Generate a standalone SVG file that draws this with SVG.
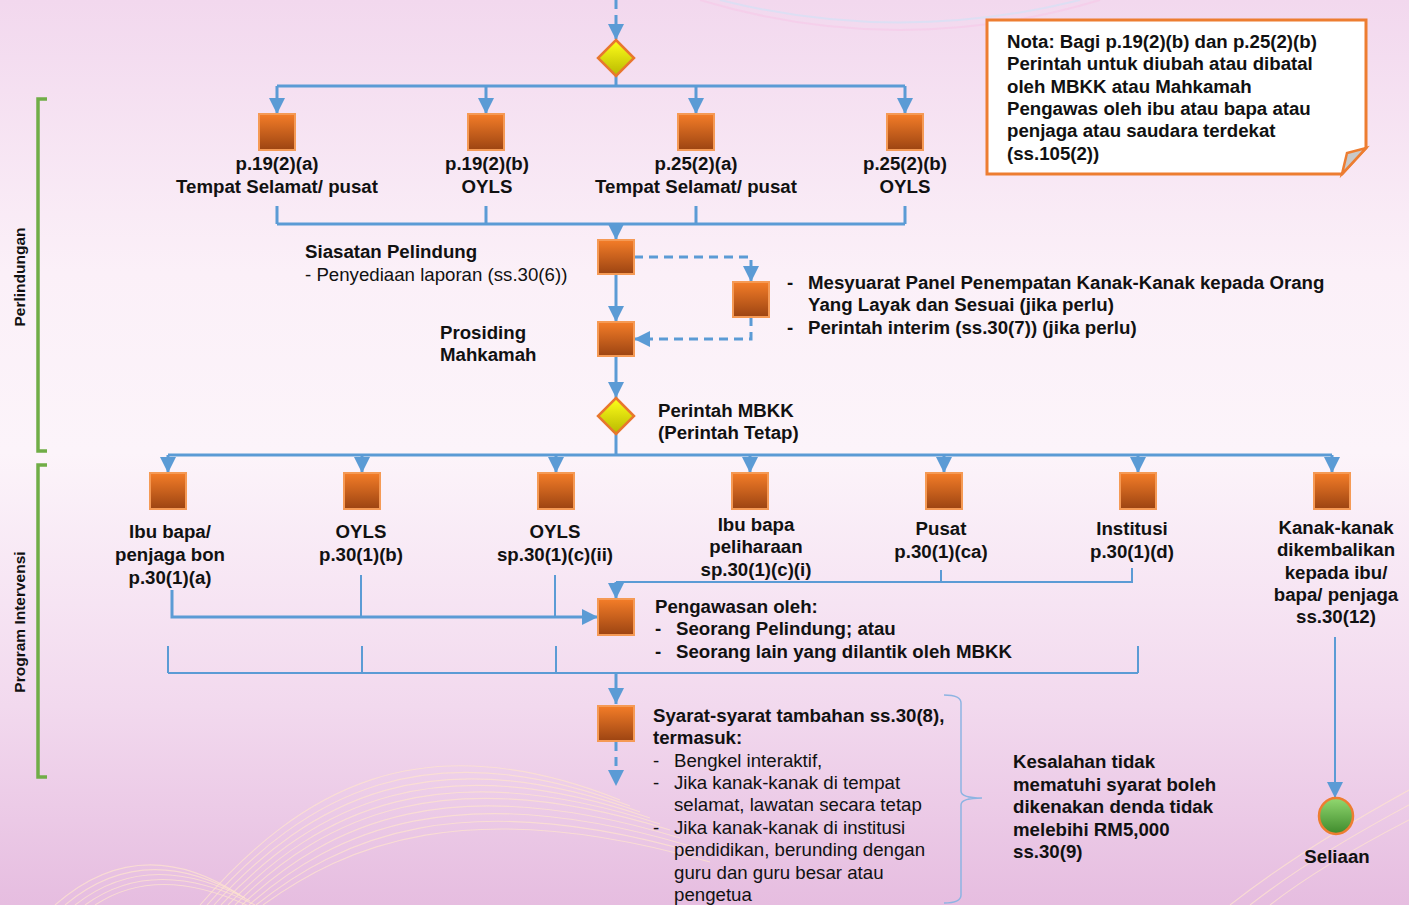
<svg xmlns="http://www.w3.org/2000/svg" width="1409" height="905" viewBox="0 0 1409 905">
<defs>
<linearGradient id="bg" x1="0" y1="0" x2="0" y2="1">
<stop offset="0" stop-color="#f2d8ee"/>
<stop offset="0.3" stop-color="#fbf0f8"/>
<stop offset="0.5" stop-color="#fcf4fa"/>
<stop offset="0.78" stop-color="#f2d9ee"/>
<stop offset="1" stop-color="#e6bde0"/>
</linearGradient>
<linearGradient id="box" x1="0" y1="0" x2="0" y2="1">
<stop offset="0" stop-color="#f47d28"/>
<stop offset="1" stop-color="#9c4412"/>
</linearGradient>
<linearGradient id="dia" x1="0" y1="0" x2="0" y2="1">
<stop offset="0" stop-color="#ffff1a"/>
<stop offset="1" stop-color="#b8b800"/>
</linearGradient>
<linearGradient id="grn" x1="0" y1="0" x2="0" y2="1">
<stop offset="0" stop-color="#92d870"/>
<stop offset="1" stop-color="#3e8a2c"/>
</linearGradient>
<marker id="ah" markerUnits="userSpaceOnUse" markerWidth="16" markerHeight="16" viewBox="0 0 10 10" refX="10" refY="5" orient="auto">
<path d="M0,0 L10,5 L0,10 z" fill="#5b9bd5"/>
</marker>
<style>
.bx{fill:url(#box);stroke:#f59a55;stroke-width:2}
.dm{fill:url(#dia);stroke:#e8772e;stroke-width:2.5}
.c{fill:none;stroke:#5b9bd5;stroke-width:3}
.ct{fill:none;stroke:#5b9bd5;stroke-width:2}
.d{fill:none;stroke:#5b9bd5;stroke-width:3;stroke-dasharray:9 6}
.a{marker-end:url(#ah)}
text{font-family:"Liberation Sans",Arial,sans-serif;font-size:18.67px;fill:#111}
.b{font-weight:bold}
.m{text-anchor:middle}
.side{font-size:15.5px;font-weight:bold;fill:#111}
.br{fill:none;stroke:#70ad47;stroke-width:3.5}
.sw{fill:none;stroke:#fde3cf;stroke-width:1.1;opacity:0.75}
</style>
</defs>
<rect width="1409" height="905" fill="url(#bg)"/>
<g id="decor">
<path d="M700,0 Q900,60 1100,0" fill="none" stroke="#f7c8e8" stroke-width="2" opacity="0.6"/>
<path d="M720,0 Q900,45 1080,0" fill="none" stroke="#cfe3f7" stroke-width="2" opacity="0.6"/>
<path class="sw" d="M55,905 Q140,830 240,895"/>
<path class="sw" d="M65,905 Q145,838 245,898"/>
<path class="sw" d="M75,905 Q150,846 250,901"/>
<path class="sw" d="M85,905 Q155,854 255,905"/>
<path class="sw" d="M95,905 Q160,862 255,909"/>
<path class="sw" d="M200,905 C300,790 420,720 620,800"/>
<path class="sw" d="M207,905 C305,795 425,728 630,806"/>
<path class="sw" d="M214,905 C310,800 430,736 640,812"/>
<path class="sw" d="M221,905 C315,805 435,744 650,818"/>
<path class="sw" d="M228,905 C320,810 440,752 660,824"/>
<path class="sw" d="M235,905 C325,815 445,760 670,830"/>
<path class="sw" d="M242,905 C330,822 450,768 680,838"/>
<path class="sw" d="M249,905 C335,830 455,776 690,846"/>
<path class="sw" d="M256,905 C340,838 460,784 700,854"/>
<path class="sw" d="M263,905 C345,846 465,792 710,862"/>
<path class="sw" d="M1409,790 Q1300,850 1230,905"/>
<path class="sw" d="M1409,805 Q1310,858 1250,905"/>
<path class="sw" d="M1409,820 Q1320,866 1270,905"/>
</g>
<g id="brackets">
<path class="br" d="M47,99 H38 V451 H47"/>
<text class="side" transform="translate(25,277) rotate(-90)" text-anchor="middle">Perlindungan</text>
<path class="br" d="M47,465 H38 V777 H47"/>
<text class="side" transform="translate(25,622) rotate(-90)" text-anchor="middle">Program Intervensi</text>
</g>
<g id="connectors">
<path class="d a" d="M616,0 V40"/>
<path class="c" d="M616,76 V86 M277,86 H905"/>
<path class="c a" d="M277,86 V114"/>
<path class="c a" d="M486,86 V114"/>
<path class="c a" d="M696,86 V114"/>
<path class="c a" d="M905,86 V114"/>
<path class="c" d="M277,206 V224 M486,206 V224 M696,206 V224 M905,206 V224 M277,224 H905"/>
<path class="c a" d="M616,224 V240"/>
<path class="c a" d="M616,274 V322"/>
<path class="d a" d="M634,257 H751 V282"/>
<path class="d a" d="M751,317 V339 H634"/>
<path class="c a" d="M616,356 V398"/>
<path class="c" d="M616,434 V455 M168,455 H1332"/>
<path class="c a" d="M168,455 V473"/>
<path class="c a" d="M362,455 V473"/>
<path class="c a" d="M556,455 V473"/>
<path class="c a" d="M750,455 V473"/>
<path class="c a" d="M944,455 V473"/>
<path class="c a" d="M1138,455 V473"/>
<path class="c a" d="M1332,455 V473"/>
<path class="ct" d="M941,570 V582 M1132,568 V582 H616"/>
<path class="c a" d="M616,582 V599"/>
<path class="ct" d="M361,575 V617 M555,575 V617"/>
<path class="c a" d="M172,590 V617 H598"/>
<path class="ct" d="M168,646 V673 M362,646 V673 M556,646 V673 M1138,646 V673 M168,673 H1138"/>
<path class="c a" d="M616,673 V704"/>
<path class="d a" d="M616,742 V786"/>
<path class="ct a" d="M1335,637 V798"/>
<path fill="none" stroke="#8db4e2" stroke-width="1.5" d="M944,695 Q961,695 961,703 V791 Q961,798 982,798 Q961,798 961,805 V895 Q961,903 944,903"/>
</g>
<g id="n-top"><path class="dm" d="M616,40 L634,58 L616,76 L598,58 Z"/></g>
<g id="n-p19a"><rect class="bx" x="259" y="114" width="36" height="36"/>
<text class="b m" x="277" y="170">p.19(2)(a)</text><text class="b m" x="277" y="193">Tempat Selamat/ pusat</text></g>
<g id="n-p19b"><rect class="bx" x="468" y="114" width="36" height="36"/>
<text class="b m" x="487" y="170">p.19(2)(b)</text><text class="b m" x="487" y="193">OYLS</text></g>
<g id="n-p25a"><rect class="bx" x="678" y="114" width="36" height="36"/>
<text class="b m" x="696" y="170">p.25(2)(a)</text><text class="b m" x="696" y="193">Tempat Selamat/ pusat</text></g>
<g id="n-p25b"><rect class="bx" x="887" y="114" width="36" height="36"/>
<text class="b m" x="905" y="170">p.25(2)(b)</text><text class="b m" x="905" y="193">OYLS</text></g>
<g id="n-nota">
<path d="M987,20 H1366 V148 L1342,174 H987 Z" fill="#ffffff" stroke="#ed7d31" stroke-width="3"/>
<path d="M1342,174 L1347,153 L1366,148 Z" fill="#c9c9c9" stroke="#ed7d31" stroke-width="2.5"/>
<text class="b" x="1007" y="48">Nota: Bagi p.19(2)(b) dan p.25(2)(b)</text>
<text class="b" x="1007" y="70">Perintah untuk diubah atau dibatal</text>
<text class="b" x="1007" y="93">oleh MBKK atau Mahkamah</text>
<text class="b" x="1007" y="115">Pengawas oleh ibu atau bapa atau</text>
<text class="b" x="1007" y="137">penjaga atau saudara terdekat</text>
<text class="b" x="1007" y="160">(ss.105(2))</text>
</g>
<g id="n-siasatan"><rect class="bx" x="598" y="240" width="36" height="34"/>
<text class="b" x="305" y="258">Siasatan Pelindung</text>
<text x="305" y="281">- Penyediaan laporan (ss.30(6))</text></g>
<g id="n-mesyuarat"><rect class="bx" x="733" y="282" width="36" height="35"/>
<text class="b" x="787" y="289">-</text><text class="b" x="808" y="289">Mesyuarat Panel Penempatan Kanak-Kanak kepada Orang</text>
<text class="b" x="808" y="311">Yang Layak dan Sesuai (jika perlu)</text>
<text class="b" x="787" y="334">-</text><text class="b" x="808" y="334">Perintah interim (ss.30(7)) (jika perlu)</text></g>
<g id="n-prosiding"><rect class="bx" x="598" y="322" width="36" height="34"/>
<text class="b" x="440" y="339">Prosiding</text><text class="b" x="440" y="361">Mahkamah</text></g>
<g id="n-perintah"><path class="dm" d="M616,398 L634,416 L616,434 L598,416 Z"/>
<text class="b" x="658" y="417">Perintah MBKK</text><text class="b" x="658" y="439">(Perintah Tetap)</text></g>
<g id="n-ibubapa"><rect class="bx" x="150" y="473" width="36" height="36"/>
<text class="b m" x="170" y="538">Ibu bapa/</text><text class="b m" x="170" y="561">penjaga bon</text><text class="b m" x="170" y="584">p.30(1)(a)</text></g>
<g id="n-oyls1"><rect class="bx" x="344" y="473" width="36" height="36"/>
<text class="b m" x="361" y="538">OYLS</text><text class="b m" x="361" y="561">p.30(1)(b)</text></g>
<g id="n-oyls2"><rect class="bx" x="538" y="473" width="36" height="36"/>
<text class="b m" x="555" y="538">OYLS</text><text class="b m" x="555" y="561">sp.30(1)(c)(ii)</text></g>
<g id="n-pelihara"><rect class="bx" x="732" y="473" width="36" height="36"/>
<text class="b m" x="756" y="531">Ibu bapa</text><text class="b m" x="756" y="553">peliharaan</text><text class="b m" x="756" y="576">sp.30(1)(c)(i)</text></g>
<g id="n-pusat"><rect class="bx" x="926" y="473" width="36" height="36"/>
<text class="b m" x="941" y="535">Pusat</text><text class="b m" x="941" y="558">p.30(1)(ca)</text></g>
<g id="n-institusi"><rect class="bx" x="1120" y="473" width="36" height="36"/>
<text class="b m" x="1132" y="535">Institusi</text><text class="b m" x="1132" y="558">p.30(1)(d)</text></g>
<g id="n-kanak"><rect class="bx" x="1314" y="473" width="36" height="36"/>
<text class="b m" x="1336" y="534">Kanak-kanak</text><text class="b m" x="1336" y="556">dikembalikan</text><text class="b m" x="1336" y="579">kepada ibu/</text><text class="b m" x="1336" y="601">bapa/ penjaga</text><text class="b m" x="1336" y="623">ss.30(12)</text></g>
<g id="n-pengawasan"><rect class="bx" x="598" y="599" width="36" height="36"/>
<text class="b" x="655" y="613">Pengawasan oleh:</text>
<text class="b" x="655" y="635">-</text><text class="b" x="676" y="635">Seorang Pelindung; atau</text>
<text class="b" x="655" y="658">-</text><text class="b" x="676" y="658">Seorang lain yang dilantik oleh MBKK</text></g>
<g id="n-syarat"><rect class="bx" x="598" y="706" width="36" height="35"/>
<text class="b" x="653" y="722">Syarat-syarat tambahan ss.30(8),</text>
<text class="b" x="653" y="744">termasuk:</text>
<text x="653" y="767">-</text><text x="674" y="767">Bengkel interaktif,</text>
<text x="653" y="789">-</text><text x="674" y="789">Jika kanak-kanak di tempat</text>
<text x="674" y="811">selamat, lawatan secara tetap</text>
<text x="653" y="834">-</text><text x="674" y="834">Jika kanak-kanak di institusi</text>
<text x="674" y="856">pendidikan, berunding dengan</text>
<text x="674" y="879">guru dan guru besar atau</text>
<text x="674" y="901">pengetua</text></g>
<g id="n-kesalahan">
<text class="b" x="1013" y="768">Kesalahan tidak</text>
<text class="b" x="1013" y="791">mematuhi syarat boleh</text>
<text class="b" x="1013" y="813">dikenakan denda tidak</text>
<text class="b" x="1013" y="836">melebihi RM5,000</text>
<text class="b" x="1013" y="858">ss.30(9)</text></g>
<g id="n-seliaan"><ellipse cx="1336" cy="816" rx="17" ry="18" fill="url(#grn)" stroke="#ed7d31" stroke-width="2.5"/>
<text class="b m" x="1337" y="863">Seliaan</text></g>
</svg>
